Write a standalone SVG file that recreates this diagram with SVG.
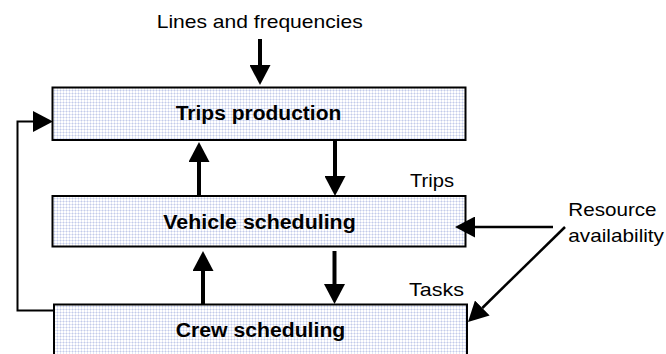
<svg xmlns="http://www.w3.org/2000/svg" width="666" height="354" viewBox="0 0 666 354">
  <style>
    .box { fill: url(#dots); stroke: #000; stroke-width: 2; }
    .lbl { font-family: "Liberation Sans", Arial, sans-serif; font-size: 19px; fill: #000; }
    .title { font-family: "Liberation Sans", Arial, sans-serif; font-size: 19.5px; font-weight: bold; fill: #000; text-anchor: middle; }
    .thick { fill: none; stroke: #000; stroke-width: 4; }
    .thin { fill: none; stroke: #000; stroke-width: 2.5; }
    .line { fill: none; stroke: #000; stroke-width: 2; }
  </style>
  <defs>
    <!-- light bluish dotted grid used to fill the process boxes -->
    <pattern id="dots" width="3" height="3" patternUnits="userSpaceOnUse">
      <rect width="3" height="3" fill="#ffffff"/>
      <rect x="0" y="0" width="3" height="1" fill="#e3e7f5"/>
      <rect x="0" y="0" width="1" height="3" fill="#e3e7f5"/>
      <rect x="0" y="0" width="1" height="1" fill="#c3cbea"/>
    </pattern>
    <!-- arrowhead whose base sits at the end of the line -->
    <marker id="head" markerWidth="20" markerHeight="21" refX="0" refY="10.5" orient="auto" markerUnits="userSpaceOnUse">
      <path d="M0,0 L20,10.5 L0,21 Z" fill="#000"/>
    </marker>
  </defs>

  <g id="trips-production">
    <rect class="box" x="52.5" y="87.5" width="413" height="52.5"/>
    <text class="title" x="258.5" y="120" textLength="165.6" lengthAdjust="spacingAndGlyphs">Trips production</text>
  </g>

  <g id="vehicle-scheduling">
    <rect class="box" x="52.5" y="196" width="413" height="50.5"/>
    <text class="title" x="259.5" y="228.7" textLength="192.4" lengthAdjust="spacingAndGlyphs">Vehicle scheduling</text>
  </g>

  <g id="crew-scheduling">
    <rect class="box" x="54" y="304.5" width="413" height="60"/>
    <text class="title" x="260.5" y="337" textLength="169.6" lengthAdjust="spacingAndGlyphs">Crew scheduling</text>
  </g>

  <g id="labels">
    <text class="lbl" x="156.7" y="27.7" textLength="206" lengthAdjust="spacingAndGlyphs">Lines and frequencies</text>
    <text class="lbl" x="410" y="186.7" textLength="44" lengthAdjust="spacingAndGlyphs">Trips</text>
    <text class="lbl" x="409" y="296" textLength="55" lengthAdjust="spacingAndGlyphs">Tasks</text>
    <text class="lbl" x="568.3" y="215.7" textLength="88.3" lengthAdjust="spacingAndGlyphs">Resource</text>
    <text class="lbl" x="568.3" y="242" textLength="95.7" lengthAdjust="spacingAndGlyphs">availability</text>
  </g>

  <g id="connectors">
    <!-- vertical flow between the stages -->
    <line class="thick" x1="260" y1="39" x2="260" y2="65" marker-end="url(#head)"/>
    <line class="thick" x1="335" y1="140" x2="335" y2="176" marker-end="url(#head)"/>
    <line class="thick" x1="199" y1="196" x2="199" y2="162" marker-end="url(#head)"/>
    <line class="thick" x1="203" y1="304.5" x2="203" y2="271" marker-end="url(#head)"/>
    <line class="thick" x1="334.5" y1="251" x2="334.5" y2="284" marker-end="url(#head)"/>
    <!-- resource availability inputs -->
    <line class="thin" x1="553" y1="227" x2="475" y2="227" marker-end="url(#head)"/>
    <line class="thin" x1="565" y1="227" x2="482.3" y2="308" marker-end="url(#head)"/>
    <!-- feedback loop from crew scheduling back to trips production -->
    <polyline class="line" points="54,310.5 17.5,310.5 17.5,121.5 33,121.5" marker-end="url(#head)"/>
  </g>
</svg>
